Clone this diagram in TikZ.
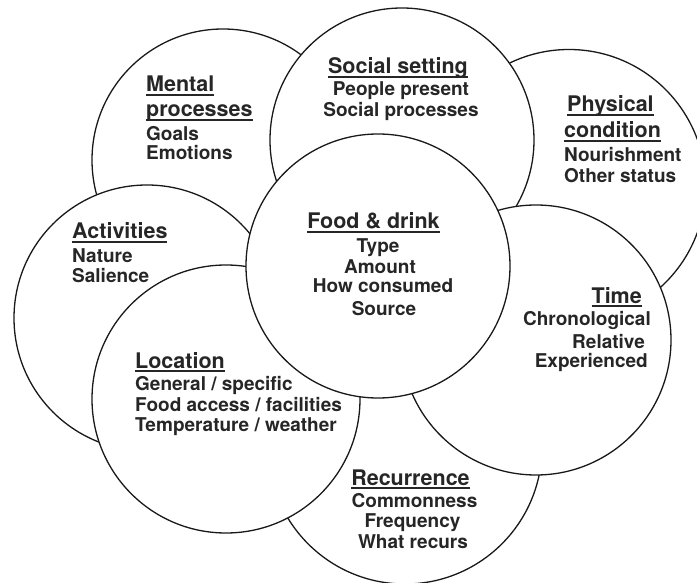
\documentclass[tikz,border=0pt]{standalone}
\usepackage{fontspec}
\setmainfont{TeX Gyre Heros}
\newsavebox\ulbox
\newcommand\hdu[1]{\sbox\ulbox{#1}\rlap{\rule[-4pt]{\wd\ulbox}{1.6pt}}\usebox\ulbox}
\begin{document}
\begin{tikzpicture}[x=1pt,y=-1pt,
  circ/.style={draw=black!90,line width=1.3pt,fill=white},
  hd/.style={inner sep=0pt,font=\fontsize{21.5}{24}\selectfont\bfseries,text=black!85},
  it/.style={inner sep=0pt,font=\fontsize{19}{21}\selectfont\bfseries,text=black!85}]
\useasboundingbox (0,0) rectangle (697,583);
\clip (0,0) rectangle (697,583);
\fill[white] (0,0) rectangle (697,583);
% circles, bottom to top
\draw[circ] (569,186) circle[radius=136.5]; % physical
\draw[circ] (223,160) circle[radius=131];   % mental
\draw[circ] (405,447) circle[radius=137];   % recurrence
\draw[circ] (402,140) circle[radius=132];   % social
\draw[circ] (147,318) circle[radius=133];   % activities
\draw[circ] (536,340) circle[radius=135];   % time
\draw[circ] (226,399) circle[radius=134];   % location
\draw[circ] (378,266) circle[radius=132];   % food
% Mental processes
\node[hd,anchor=base west] (m1) at (146,92) {\hdu{Mental}};
\node[hd,anchor=base west] (m2) at (146,117) {\hdu{processes}};
\node[it,anchor=base west] (m3) at (146,141) {Goals};
\node[it,anchor=base west] (m4) at (146,160) {Emotions};
% Social setting
\node[hd,anchor=base] (s1) at (398,74) {\hdu{Social setting}};
\node[it,anchor=base] (s2) at (401,96) {People present};
\node[it,anchor=base] (s3) at (401,117) {Social processes};
% Physical condition
\node[hd,anchor=base west] (p1) at (567,112) {\hdu{Physical}};
\node[hd,anchor=base west] (p2) at (564,138) {\hdu{condition}};
\node[it,anchor=base west] (p3) at (564,162) {Nourishment};
\node[it,anchor=base west] (p4) at (564,183) {Other status};
% Activities
\node[hd,anchor=base west] (a1) at (72,239) {\hdu{Activities}};
\node[it,anchor=base west] (a2) at (72,262) {Nature};
\node[it,anchor=base west] (a3) at (72,283) {Salience};
% Food & drink
\node[hd,anchor=base] (f1) at (373.5,229) {\hdu{Food \& drink}};
\node[it,anchor=base] (f2) at (378,252) {Type};
\node[it,anchor=base] (f3) at (380,273) {Amount};
\node[it,anchor=base] (f4) at (383,293) {How consumed};
\node[it,anchor=base] (f5) at (384,315) {Source};
% Time
\node[hd,anchor=base east] (t1) at (642,303) {\hdu{Time}};
\node[it,anchor=base east] (t2) at (651,325) {Chronological};
\node[it,anchor=base east] (t3) at (645,348) {Relative};
\node[it,anchor=base east] (t4) at (648,367) {Experienced};
% Location
\node[hd,anchor=base west] (l1) at (135,368) {\hdu{Location}};
\node[it,anchor=base west] (l2) at (135,390) {General / specific};
\node[it,anchor=base west] (l3) at (135,411) {Food access / facilities};
\node[it,anchor=base west] (l4) at (135,431) {Temperature / weather};
% Recurrence
\node[hd,anchor=base] (r1) at (410.5,485) {\hdu{Recurrence}};
\node[it,anchor=base] (r2) at (414.5,507) {Commonness};
\node[it,anchor=base] (r3) at (412.5,527) {Frequency};
\node[it,anchor=base] (r4) at (413,548) {What recurs};
\end{tikzpicture}
\end{document}
